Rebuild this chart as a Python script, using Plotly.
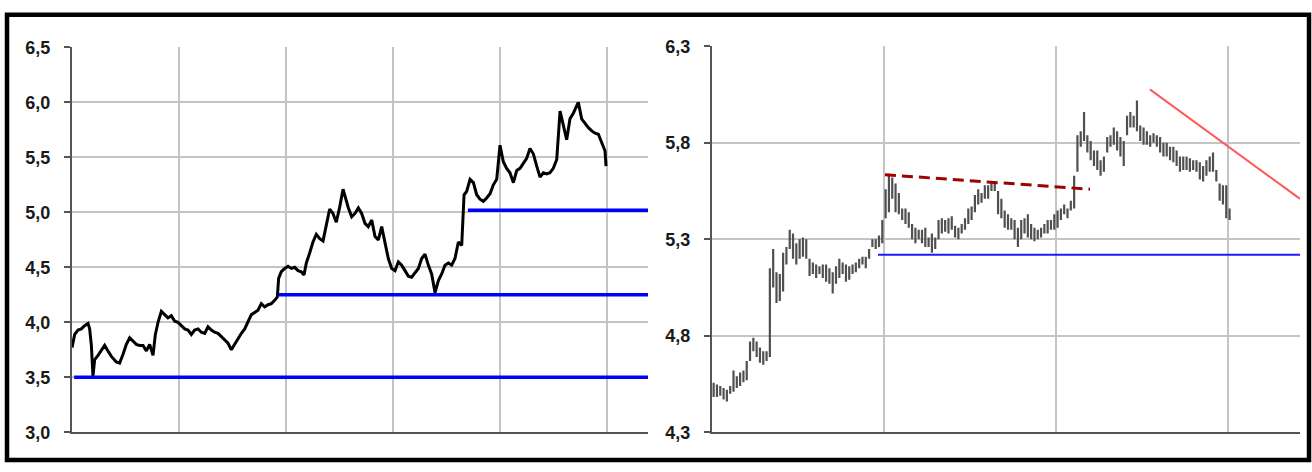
import plotly.graph_objects as go

# ---------------- Left panel: daily close line ----------------
left_t = [0, 2.5, 5.6, 8.7, 11.8, 15.0, 16.5, 18.1, 19.6, 21.2, 24.3, 27.4, 30.5, 33.6, 36.8,
          41.4, 44.5, 47.7, 50.8, 53.9, 57.0, 60.1, 63.2, 66.4, 69.5, 72.6, 75.7, 77.9, 80.4,
          83.5, 86.6, 89.7, 92.8, 96.0, 99.1, 102.2, 105.3, 108.4, 111.5, 114.6, 117.8, 120.9,
          124.0, 127.1, 130.2, 133.3, 136.4, 139.6, 142.7, 145.8, 148.9, 152.0, 155.1, 158.3,
          161.4, 164.5, 167.6, 170.7, 173.8, 176.9, 180.1, 183.2, 186.3, 189.4, 191.9, 193.1,
          195.6, 198.8, 201.9, 205.0, 208.1, 211.2, 214.3, 216.8, 219.0, 222.1, 225.2, 228.3,
          231.5, 234.6, 237.7, 240.8, 243.9, 247.0, 250.2, 253.3, 258.3, 261.4, 264.5, 267.6,
          270.7, 273.8, 276.9, 280.1, 283.2, 286.3, 289.4, 292.5, 295.6, 298.8, 301.9, 305.0,
          308.1, 311.2, 314.3, 317.4, 320.6, 323.7, 326.8, 329.9, 333.0, 336.1, 339.3, 342.4,
          345.5, 348.6, 351.7, 354.8, 357.9, 361.1, 364.2, 366.4, 368.8, 372.0, 375.1, 378.2,
          381.3, 384.4, 387.5, 390.7, 393.8, 396.9, 400.0, 403.1, 406.2, 409.3, 412.5, 415.6,
          418.7, 421.8, 424.9, 428.0, 431.2, 434.3, 437.4, 440.5, 443.6, 446.7, 449.8, 453.0,
          454.5, 456.1, 459.2, 462.3, 465.4, 468.5, 471.7, 473.2, 476.3, 479.4, 482.6, 485.7,
          488.8, 491.9, 495.0, 498.1, 499.1]
left_close = [3.77, 3.89, 3.93, 3.94, 3.97, 3.99, 3.94, 3.79, 3.51, 3.66, 3.70, 3.74, 3.79, 3.74, 3.69,
              3.64, 3.63, 3.71, 3.80, 3.86, 3.83, 3.80, 3.79, 3.79, 3.74, 3.80, 3.70, 3.89, 4.00,
              4.10, 4.07, 4.04, 4.06, 4.01, 4.00, 3.97, 3.94, 3.93, 3.89, 3.93, 3.94, 3.91,
              3.90, 3.96, 3.93, 3.91, 3.90, 3.87, 3.84, 3.81, 3.75, 3.80, 3.86, 3.90,
              3.94, 4.00, 4.07, 4.09, 4.11, 4.17, 4.14, 4.16, 4.17, 4.20, 4.23, 4.40,
              4.46, 4.49, 4.51, 4.49, 4.50, 4.47, 4.46, 4.43, 4.54, 4.63, 4.73, 4.80,
              4.76, 4.74, 4.89, 5.03, 4.99, 4.91, 5.05, 5.21, 5.04, 4.96, 4.99, 5.04,
              4.99, 4.90, 4.87, 4.93, 4.78, 4.75, 4.87, 4.73, 4.58, 4.49, 4.47, 4.55,
              4.52, 4.47, 4.42, 4.41, 4.45, 4.49, 4.58, 4.62, 4.52, 4.44, 4.27, 4.38,
              4.44, 4.52, 4.54, 4.52, 4.58, 4.73, 4.70, 5.16, 5.19, 5.30, 5.27, 5.16,
              5.12, 5.10, 5.13, 5.17, 5.25, 5.30, 5.61, 5.46, 5.40, 5.36, 5.27, 5.38,
              5.40, 5.45, 5.49, 5.58, 5.53, 5.42, 5.32, 5.36, 5.35, 5.36, 5.40, 5.48,
              5.71, 5.92, 5.79, 5.66, 5.85, 5.90, 5.97, 6.00, 5.85, 5.81, 5.77, 5.74,
              5.72, 5.71, 5.64, 5.56, 5.42]
left_support_levels = [3.5, 4.25, 5.02]
left_support_start = [2, 193, 370]
left_x_end = 538.3
left_y_ticks = [3.0, 3.5, 4.0, 4.5, 5.0, 5.5, 6.0, 6.5]
left_y_labels = ["3,0", "3,5", "4,0", "4,5", "5,0", "5,5", "6,0", "6,5"]
left_x_grid = [0, 100, 200, 300, 400, 500]

# ---------------- Right panel: weekly high-low bars ----------------
week_high = [4.557, 4.548, 4.54, 4.53, 4.52, 4.54, 4.62, 4.59, 4.61, 4.62, 4.67, 4.77, 4.79, 4.77,
             4.74, 4.72, 4.72, 5.15, 5.25, 5.13, 5.12, 5.23, 5.26, 5.35, 5.33, 5.28, 5.30, 5.31,
             5.30, 5.20, 5.18, 5.17, 5.16, 5.17, 5.17, 5.15, 5.13, 5.16, 5.20, 5.18, 5.17, 5.16,
             5.17, 5.18, 5.20, 5.21, 5.21, 5.25, 5.30, 5.30, 5.32, 5.40, 5.56, 5.64, 5.62, 5.59,
             5.54, 5.46, 5.46, 5.44, 5.38, 5.36, 5.35, 5.35, 5.36, 5.31, 5.33, 5.31, 5.40, 5.41,
             5.40, 5.41, 5.42, 5.37, 5.36, 5.38, 5.41, 5.46, 5.47, 5.53, 5.56, 5.54, 5.58, 5.58,
             5.60, 5.60, 5.55, 5.51, 5.45, 5.43, 5.41, 5.40, 5.36, 5.40, 5.41, 5.43, 5.38, 5.36,
             5.35, 5.36, 5.38, 5.40, 5.40, 5.43, 5.45, 5.46, 5.48, 5.46, 5.50, 5.63, 5.84, 5.86,
             5.96, 5.84, 5.81, 5.76, 5.76, 5.71, 5.73, 5.83, 5.84, 5.88, 5.86, 5.83, 5.81, 5.94,
             5.96, 5.94, 6.02, 5.89, 5.88, 5.86, 5.84, 5.85, 5.84, 5.83, 5.80, 5.80, 5.78, 5.78,
             5.76, 5.73, 5.73, 5.73, 5.72, 5.71, 5.71, 5.70, 5.68, 5.71, 5.73, 5.75, 5.66, 5.59,
             5.58, 5.58, 5.46]
week_low = [4.483, 4.483, 4.49, 4.47, 4.46, 4.50, 4.51, 4.53, 4.54, 4.56, 4.57, 4.67, 4.72, 4.69,
            4.66, 4.65, 4.67, 4.69, 5.05, 4.97, 4.98, 5.03, 5.17, 5.25, 5.20, 5.17, 5.20, 5.21,
            5.20, 5.11, 5.12, 5.10, 5.12, 5.10, 5.08, 5.07, 5.02, 5.07, 5.10, 5.12, 5.08, 5.09,
            5.12, 5.13, 5.15, 5.17, 5.15, 5.20, 5.26, 5.25, 5.26, 5.28, 5.41, 5.44, 5.51, 5.44,
            5.43, 5.40, 5.38, 5.36, 5.30, 5.28, 5.30, 5.28, 5.26, 5.26, 5.23, 5.25, 5.30, 5.33,
            5.34, 5.33, 5.35, 5.31, 5.30, 5.33, 5.35, 5.38, 5.40, 5.44, 5.48, 5.49, 5.51, 5.51,
            5.55, 5.55, 5.43, 5.41, 5.36, 5.35, 5.35, 5.30, 5.26, 5.30, 5.33, 5.31, 5.30, 5.29,
            5.30, 5.31, 5.33, 5.33, 5.35, 5.35, 5.36, 5.40, 5.43, 5.41, 5.45, 5.46, 5.65, 5.78,
            5.81, 5.75, 5.71, 5.68, 5.66, 5.63, 5.65, 5.75, 5.78, 5.79, 5.76, 5.73, 5.68, 5.84,
            5.88, 5.88, 5.86, 5.81, 5.79, 5.79, 5.78, 5.80, 5.78, 5.75, 5.73, 5.73, 5.71, 5.70,
            5.68, 5.65, 5.66, 5.66, 5.65, 5.66, 5.65, 5.61, 5.60, 5.63, 5.65, 5.65, 5.60, 5.50,
            5.48, 5.41, 5.40]
week_x = [i + 0.5 for i in range(len(week_high))]
right_support_level = 5.22
right_support_start = 50.2
right_x_end = 177.8
neckline_x = [52.3, 114.3]
neckline_y = [5.635, 5.56]
downtrend_x = [132.4, 177.8]
downtrend_y = [6.077, 5.51]
right_y_ticks = [4.3, 4.8, 5.3, 5.8, 6.3]
right_y_labels = ["4,3", "4,8", "5,3", "5,8", "6,3"]
right_x_grid = [0, 52, 104, 156]

W, H = 1312, 472
fig = go.Figure()

fig.add_trace(go.Scatter(x=left_t, y=left_close, mode="lines",
                         line=dict(color="#000000", width=3), xaxis="x", yaxis="y",
                         hoverinfo="skip"))
for lvl, st in zip(left_support_levels, left_support_start):
    fig.add_trace(go.Scatter(x=[st, left_x_end], y=[lvl, lvl], mode="lines",
                             line=dict(color="#0000ff", width=3.5), xaxis="x", yaxis="y"))

bx, by = [], []
for x, h, l in zip(week_x, week_high, week_low):
    bx += [x, x, None]
    by += [l, h, None]
fig.add_trace(go.Scatter(x=bx, y=by, mode="lines", line=dict(color="#505050", width=2.2),
                         xaxis="x2", yaxis="y2"))
fig.add_trace(go.Scatter(x=[right_support_start, right_x_end],
                         y=[right_support_level, right_support_level], mode="lines",
                         line=dict(color="#1a1aff", width=2), xaxis="x2", yaxis="y2"))
fig.add_trace(go.Scatter(x=neckline_x, y=neckline_y, mode="lines",
                         line=dict(color="#a00000", width=3, dash="11px,6px"),
                         xaxis="x2", yaxis="y2"))
fig.add_trace(go.Scatter(x=downtrend_x, y=downtrend_y, mode="lines",
                         line=dict(color="#ff5a5a", width=2), xaxis="x2", yaxis="y2"))

grid_col = "#c4c4c4"
axis_col = "#555555"
tick_font = dict(family="Liberation Sans, Arial, sans-serif", size=18, color="#1a1a1a")

def xax(domain, rng, grid):
    return dict(domain=domain, range=rng, tickvals=grid, showticklabels=False,
                showgrid=True, gridcolor=grid_col, gridwidth=1.6, zeroline=False,
                showline=True, linecolor=axis_col, linewidth=2, ticks="", fixedrange=True)

def yax(domain, rng, vals, labels, anchor):
    return dict(domain=domain, range=rng, tickvals=vals,
                ticktext=["<b>%s</b>" % s for s in labels], tickfont=tick_font,
                showgrid=True, gridcolor=grid_col, gridwidth=1.6, zeroline=False,
                showline=True, linecolor=axis_col, linewidth=2, ticks="outside",
                ticklen=6, tickwidth=2, tickcolor=axis_col, ticklabelstandoff=10,
                anchor=anchor, fixedrange=True)

y_dom = [1 - 441 / H, 1 - 39 / H]
y_dom2 = [1 - 441 / H, 1 - 38 / H]
fig.update_layout(
    width=W, height=H, margin=dict(l=0, r=0, t=0, b=0),
    paper_bgcolor="#ffffff", plot_bgcolor="#ffffff", showlegend=False,
    xaxis=xax([72 / W, 648 / W], [0, left_x_end], left_x_grid),
    yaxis=yax(y_dom, [3.0, 6.5], left_y_ticks, left_y_labels, "x"),
    xaxis2=xax([712 / W, 1300 / W], [0, right_x_end], right_x_grid) | dict(anchor="y2"),
    yaxis2=yax(y_dom2, [4.3, 6.3], right_y_ticks, right_y_labels, "x2"),
    shapes=[dict(type="rect", xref="paper", yref="paper",
                 x0=7 / W, x1=1309 / W, y0=1 - 470 / H, y1=1 - 5 / H,
                 line=dict(color="#000000", width=4.5), fillcolor="rgba(0,0,0,0)")],
)
page_js = (
    "var de=document.documentElement, b=document.body;"
    "de.style.margin='0';de.style.padding='0';de.style.overflow='hidden';"
    "b.style.margin='0';b.style.padding='0';b.style.overflow='hidden';"
    "var gd=document.getElementById('{plot_id}');"
    "gd.style.position='fixed';gd.style.left='0px';gd.style.top='0px';"
)
fig.write_html("out.html", config={"displayModeBar": False}, post_script=page_js)
